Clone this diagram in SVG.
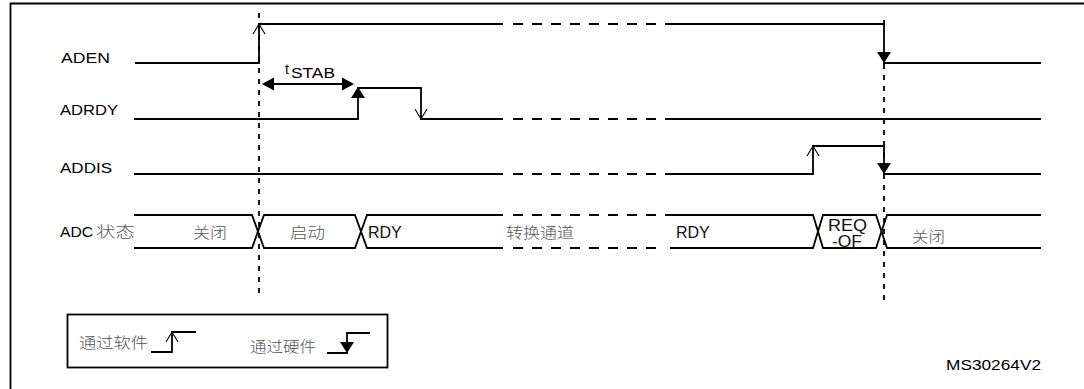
<svg xmlns="http://www.w3.org/2000/svg" xmlns:xlink="http://www.w3.org/1999/xlink" width="1084" height="389" viewBox="0 0 1084 389">
  <style>
    .ln { fill: none; stroke: #000; stroke-width: 1.8; }
    .dash { fill: none; stroke: #000; stroke-width: 1.8; stroke-dasharray: 10 9; }
    .vdash { fill: none; stroke: #000; stroke-width: 1.8; stroke-dasharray: 5 6; }
    .open { fill: none; stroke: #000; stroke-width: 1.1; }
    .head { fill: #000; stroke: none; }
    .lbl { font-family: "Liberation Sans", Arial, sans-serif; font-size: 14px; fill: #000; }
    .bus { font-family: "Liberation Sans", Arial, sans-serif; font-size: 16px; fill: #111; }
    .cjk { font-family: "Liberation Sans", "Noto Sans CJK SC", sans-serif; font-size: 15px; font-weight: 300; fill: #555; }
  </style>
  <defs>
    <!-- filled heads: tip at origin -->
    <path id="hDown" class="head" d="M0,0 L-7,-11 L7,-11 Z"/>
    <path id="hUp" class="head" d="M0,0 L-7,11 L7,11 Z"/>
    <path id="hLeft" class="head" d="M0,0 L12,-6.5 L12,6.5 Z"/>
    <path id="hRight" class="head" d="M0,0 L-12,-6.5 L-12,6.5 Z"/>
    <!-- open (software) heads -->
    <path id="oUp" class="open" d="M-6,10 L0,0 L6,10"/>
    <path id="oDown" class="open" d="M-6,-10 L0,0 L6,-10"/>
  </defs>

  <!-- outer frame -->
  <path class="ln" d="M10.5,389 V3.5 H1084"/>

  <!-- reference markers -->
  <g id="markers">
    <path class="vdash" d="M259,13 V294"/>
    <path class="vdash" d="M884,20 V25"/>
    <path class="vdash" d="M884,64 V300"/>
  </g>

  <g id="aden">
    <text class="lbl" x="61" y="63" textLength="49" lengthAdjust="spacingAndGlyphs">ADEN</text>
    <path class="ln" d="M135,63 H259 V24 H503"/>
    <path class="dash" d="M513,24 H657"/>
    <path class="ln" d="M665,24 H884 V63 H1041"/>
    <use xlink:href="#oUp" x="259" y="24"/>
    <use xlink:href="#hDown" x="884" y="63"/>
  </g>

  <g id="tstab">
    <path class="ln" d="M268,84 H348"/>
    <use xlink:href="#hLeft" x="262" y="84"/>
    <use xlink:href="#hRight" x="354" y="84"/>
    <text class="lbl" x="285" y="74" font-size="15">t</text>
    <text class="lbl" x="291" y="78" font-size="14" textLength="44" lengthAdjust="spacingAndGlyphs">STAB</text>
  </g>

  <g id="adrdy">
    <text class="lbl" x="60" y="115" textLength="58" lengthAdjust="spacingAndGlyphs">ADRDY</text>
    <path class="ln" d="M134,119 H358 V88 H421 V119 H503"/>
    <path class="dash" d="M513,119 H657"/>
    <path class="ln" d="M665,119 H1041"/>
    <use xlink:href="#hUp" x="358" y="87"/>
    <use xlink:href="#oDown" x="421" y="119"/>
  </g>

  <g id="addis">
    <text class="lbl" x="60" y="173" textLength="52" lengthAdjust="spacingAndGlyphs">ADDIS</text>
    <path class="ln" d="M134,174 H503"/>
    <path class="dash" d="M513,174 H657"/>
    <path class="ln" d="M665,174 H813 V146 H884 V174 H1041"/>
    <use xlink:href="#oUp" x="813" y="146"/>
    <use xlink:href="#hDown" x="884" y="174"/>
  </g>

  <g id="adc-state">
    <text class="lbl" x="60" y="237" textLength="33" lengthAdjust="spacingAndGlyphs">ADC</text>
    <text class="cjk" x="96" y="237" textLength="39" lengthAdjust="spacingAndGlyphs">状态</text>
    <path class="ln" d="M134,215 H252 L264,248 H355 L367,215 H503"/>
    <path class="ln" d="M134,248 H252 L264,215 H355 L367,248 H503"/>
    <path class="dash" d="M513,215 H657"/>
    <path class="dash" d="M513,248 H663"/>
    <path class="ln" d="M665,215 H813 L823,248 H876 L887,215 H1041"/>
    <path class="ln" d="M670,248 H813 L823,215 H876 L887,248 H1041"/>
    <text class="cjk" x="193" y="238" textLength="34" lengthAdjust="spacingAndGlyphs">关闭</text>
    <text class="cjk" x="290" y="238" textLength="35" lengthAdjust="spacingAndGlyphs">启动</text>
    <text class="bus" x="368" y="238">RDY</text>
    <text class="cjk" x="506" y="238" textLength="68" lengthAdjust="spacingAndGlyphs">转换通道</text>
    <text class="bus" x="676" y="238">RDY</text>
    <text class="bus" x="828" y="231" textLength="39" lengthAdjust="spacingAndGlyphs">REQ</text>
    <text class="bus" x="832" y="247" textLength="30" lengthAdjust="spacingAndGlyphs">-OF</text>
    <text class="cjk" x="912" y="242" textLength="33" lengthAdjust="spacingAndGlyphs">关闭</text>
  </g>

  <g id="legend">
    <rect class="ln" x="67.5" y="314.5" width="320" height="53"/>
    <text class="cjk" x="79" y="348" fill="#333" textLength="69" lengthAdjust="spacingAndGlyphs">通过软件</text>
    <path class="ln" d="M151,352 H172 V332 H196"/>
    <use xlink:href="#oUp" x="172" y="332"/>
    <text class="cjk" x="250" y="352" fill="#333" textLength="66" lengthAdjust="spacingAndGlyphs">通过硬件</text>
    <path class="ln" d="M327,353 H347 V333 H370"/>
    <use xlink:href="#hDown" x="347" y="353"/>
  </g>

  <text id="ref-code" class="lbl" x="946" y="370" textLength="95" lengthAdjust="spacingAndGlyphs">MS30264V2</text>
</svg>
